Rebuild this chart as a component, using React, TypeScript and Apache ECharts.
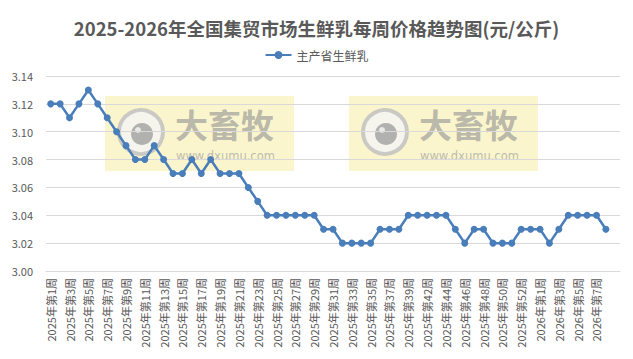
import React, { useEffect, useRef } from "react";
import * as echarts from "echarts";

const TITLE = "2025-2026年全国集贸市场生鲜乳每周价格趋势图(元/公斤)";
const SERIES_NAME = "主产省生鲜乳";

const weeks2025: number[] = [
  1, 2, 3, 4, 5, 6, 7, 8, 9, 10, 11, 12, 13, 14, 15, 16, 17, 18, 19, 20,
  21, 22, 23, 24, 25, 26, 27, 28, 29, 30, 31, 32, 33, 34, 35, 36, 37, 38, 39,
  41, 42, 43, 44, 45, 46, 47, 48, 49, 50, 51, 52, 53,
];
const weeks2026: number[] = [1, 2, 3, 4, 5, 6, 7, 8];

const categories: string[] = [
  ...weeks2025.map((w) => `2025年第${w}周`),
  ...weeks2026.map((w) => `2026年第${w}周`),
  "",
];

const prices: (number | null)[] = [
  3.12, 3.12, 3.11, 3.12, 3.13, 3.12, 3.11, 3.1, 3.09, 3.08,
  3.08, 3.09, 3.08, 3.07, 3.07, 3.08, 3.07, 3.08, 3.07, 3.07,
  3.07, 3.06, 3.05, 3.04, 3.04, 3.04, 3.04, 3.04, 3.04, 3.03,
  3.03, 3.02, 3.02, 3.02, 3.02, 3.03, 3.03, 3.03, 3.04, 3.04,
  3.04, 3.04, 3.04, 3.03, 3.02, 3.03, 3.03, 3.02, 3.02, 3.02,
  3.03, 3.03, 3.03, 3.02, 3.03, 3.04, 3.04, 3.04, 3.04, 3.03,
  null,
];

const FONT = "'Noto Sans CJK SC', 'Noto Sans', sans-serif";
const TEXT_COLOR = "#595959";

function watermark(x: number, y: number) {
  return {
    type: "group",
    x,
    y,
    z: 100,
    children: [
      {
        type: "rect",
        shape: { x: 0, y: 0, width: 189, height: 75 },
        style: { fill: "rgba(242,228,120,0.38)" },
      },
      {
        type: "circle",
        shape: { cx: 36, cy: 36, r: 22 },
        style: { fill: "rgba(245,245,245,0.8)", stroke: "rgba(190,190,190,0.8)", lineWidth: 4 },
      },
      {
        type: "circle",
        shape: { cx: 37, cy: 38, r: 11 },
        style: { fill: "rgba(160,160,160,0.8)" },
      },
      {
        type: "circle",
        shape: { cx: 33, cy: 34, r: 3 },
        style: { fill: "rgba(240,240,240,0.9)" },
      },
      {
        type: "text",
        x: 70,
        y: 28,
        style: {
          text: "大畜牧",
          font: `bold 33px ${FONT}`,
          fill: "rgba(150,150,150,0.65)",
          verticalAlign: "middle",
          align: "left",
        },
      },
      {
        type: "text",
        x: 71,
        y: 60,
        style: {
          text: "www.dxumu.com",
          font: `11.5px 'DejaVu Sans', sans-serif`,
          fill: "rgba(160,160,160,0.7)",
          verticalAlign: "middle",
          align: "left",
        },
      },
    ],
  };
}

export default function App() {
  const ref = useRef<HTMLDivElement>(null);

  useEffect(() => {
    if (!ref.current) return;
    const chart = echarts.init(ref.current, undefined, { renderer: "svg" });
    chart.setOption({
      animation: false,
      backgroundColor: "#ffffff",
      title: {
        text: TITLE,
        left: "center",
        top: 14,
        textStyle: {
          fontFamily: FONT,
          fontSize: 18.5,
          fontWeight: "bold",
          color: TEXT_COLOR,
        },
      },
      legend: {
        top: 44,
        left: "center",
        itemWidth: 26,
        itemHeight: 10,
        itemGap: 6,
        textStyle: { fontFamily: FONT, fontSize: 12, color: TEXT_COLOR },
        data: [SERIES_NAME],
      },
      grid: {
        left: 46,
        right: 13,
        top: 76,
        bottom: 88,
        containLabel: false,
      },
      xAxis: {
        type: "category",
        data: categories,
        boundaryGap: true,
        axisLine: { lineStyle: { color: "#d9d9d9" } },
        axisTick: { show: false },
        axisLabel: {
          interval: 1,
          rotate: 90,
          fontFamily: FONT,
          fontSize: 11,
          color: TEXT_COLOR,
          margin: 7,
        },
      },
      yAxis: {
        type: "value",
        min: 3.0,
        max: 3.14,
        interval: 0.02,
        axisLine: { show: false },
        axisTick: { show: false },
        splitLine: { lineStyle: { color: "#d9d9d9" } },
        axisLabel: {
          formatter: (v: number) => v.toFixed(2),
          fontFamily: FONT,
          fontSize: 11,
          color: TEXT_COLOR,
          margin: 13,
        },
      },
      series: [
        {
          name: SERIES_NAME,
          type: "line",
          data: prices,
          symbol: "circle",
          symbolSize: 7,
          showSymbol: true,
          showAllSymbol: true,
          connectNulls: false,
          itemStyle: { color: "#4A7EBB" },
          lineStyle: { color: "#4A7EBB", width: 2.5 },
        },
      ],
      graphic: [watermark(105, 96), watermark(349, 96)],
    });
    return () => chart.dispose();
  }, []);

  return <div ref={ref} style={{ width: 633, height: 359, margin: -8 }} />;
}
